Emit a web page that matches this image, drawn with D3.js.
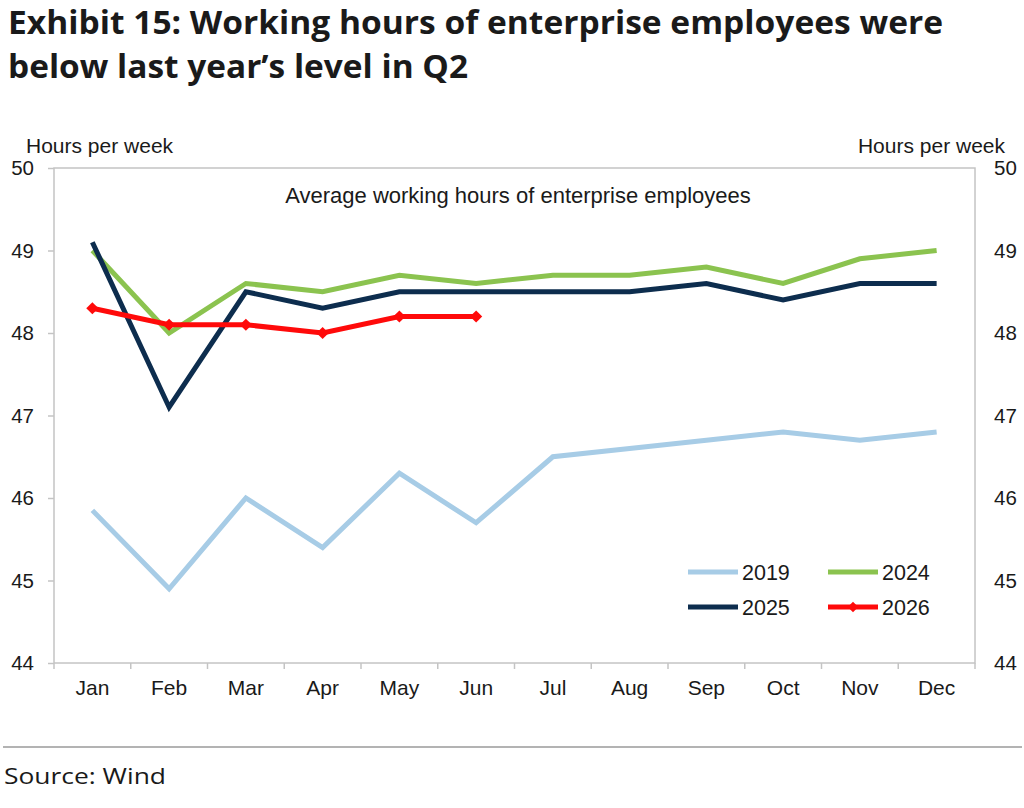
<!DOCTYPE html>
<html>
<head>
<meta charset="utf-8">
<script src="https://cdn.jsdelivr.net/npm/d3@7"></script>
<style>
  body { margin: 0; background: #fff; }
  svg { display: block; }
</style>
</head>
<body>
<div id="chart"></div>
<script>
const months = ["Jan","Feb","Mar","Apr","May","Jun","Jul","Aug","Sep","Oct","Nov","Dec"];
const yTicks = [44, 45, 46, 47, 48, 49, 50];

const hours2019 = [45.85, 44.9, 46.0, 45.4, 46.3, 45.7, 46.5, 46.6, 46.7, 46.8, 46.7, 46.8];
const hours2024 = [49.0, 48.0, 48.6, 48.5, 48.7, 48.6, 48.7, 48.7, 48.8, 48.6, 48.9, 49.0];
const hours2025 = [49.1, 47.1, 48.5, 48.3, 48.5, 48.5, 48.5, 48.5, 48.6, 48.4, 48.6, 48.6];
const hours2026 = [48.3, 48.1, 48.1, 48.0, 48.2, 48.2];

const series = [
  { name: "2019", values: hours2019, color: "#a7cce6", marker: false },
  { name: "2024", values: hours2024, color: "#8bc34f", marker: false },
  { name: "2025", values: hours2025, color: "#0d2d4e", marker: false },
  { name: "2026", values: hours2026, color: "#ff0a0a", marker: true }
];

const width = 1024, height = 808;
const plotL = 54, plotR = 975, plotT = 168, plotB = 663;
const axisFont = "'Liberation Sans', Arial, sans-serif";

const svg = d3.select("#chart").append("svg")
    .attr("width", width)
    .attr("height", height);

// title
const title = svg.append("text")
    .attr("font-family", "'Open Sans', sans-serif")
    .attr("font-weight", 700)
    .attr("font-size", 32)
    .attr("fill", "#1a1a1a");
title.append("tspan").attr("x", 8).attr("y", 34)
    .attr("textLength", 935).attr("lengthAdjust", "spacingAndGlyphs")
    .text("Exhibit 15: Working hours of enterprise employees were");
title.append("tspan").attr("x", 8).attr("y", 78)
    .attr("textLength", 460).attr("lengthAdjust", "spacingAndGlyphs")
    .text("below last year\u2019s level in Q2");

const x = d3.scaleBand().domain(months).range([plotL, plotR]);
const y = d3.scaleLinear().domain([44, 50]).range([plotB, plotT]);

// frame
svg.append("rect")
    .attr("x", plotL).attr("y", plotT)
    .attr("width", plotR - plotL).attr("height", plotB - plotT)
    .attr("fill", "none").attr("stroke", "#c4c4c4").attr("stroke-width", 1.5);

// x axis labels
const xAxis = svg.append("g")
    .attr("transform", `translate(0,${plotB})`)
    .call(d3.axisBottom(x).tickSize(0).tickPadding(17));
xAxis.select(".domain").remove();
xAxis.selectAll("text")
    .attr("font-family", axisFont).attr("font-size", 21).attr("fill", "#1a1a1a");

// x tick marks at category boundaries
svg.append("g").selectAll("line")
    .data(d3.range(months.length + 1))
    .join("line")
    .attr("x1", i => plotL + i * x.step())
    .attr("x2", i => plotL + i * x.step())
    .attr("y1", plotB).attr("y2", plotB + 6)
    .attr("stroke", "#c4c4c4").attr("stroke-width", 1.5);

// left axis
const yLeft = svg.append("g")
    .attr("transform", `translate(${plotL},0)`)
    .call(d3.axisLeft(y).tickValues(yTicks).tickFormat(d3.format("d")).tickSize(6).tickPadding(14));
yLeft.select(".domain").remove();
yLeft.selectAll("line").attr("stroke", "#c4c4c4").attr("stroke-width", 1.5);
yLeft.selectAll("text")
    .attr("font-family", axisFont).attr("font-size", 20.5).attr("fill", "#1a1a1a");

// right axis
const yRight = svg.append("g")
    .attr("transform", `translate(${plotR},0)`)
    .call(d3.axisRight(y).tickValues(yTicks).tickFormat(d3.format("d")).tickSize(0).tickPadding(19));
yRight.select(".domain").remove();
yRight.selectAll("text")
    .attr("font-family", axisFont).attr("font-size", 20.5).attr("fill", "#1a1a1a");

// axis unit labels
svg.append("text")
    .attr("x", 26).attr("y", 153)
    .attr("font-family", axisFont).attr("font-size", 21).attr("fill", "#1a1a1a")
    .text("Hours per week");
svg.append("text")
    .attr("x", 1005).attr("y", 153).attr("text-anchor", "end")
    .attr("font-family", axisFont).attr("font-size", 21).attr("fill", "#1a1a1a")
    .text("Hours per week");

// inner chart title
svg.append("text")
    .attr("x", 518).attr("y", 203).attr("text-anchor", "middle")
    .attr("font-family", axisFont).attr("font-size", 22).attr("fill", "#1a1a1a")
    .text("Average working hours of enterprise employees");

// lines
const line = d3.line()
    .x((d, i) => x(months[i]) + x.bandwidth() / 2)
    .y(d => y(d));

series.forEach(s => {
  svg.append("path")
      .datum(s.values)
      .attr("d", line)
      .attr("fill", "none")
      .attr("stroke", s.color)
      .attr("stroke-width", 5)
      .attr("stroke-linejoin", "miter");
  if (s.marker) {
    svg.append("g").selectAll("path")
        .data(s.values)
        .join("path")
        .attr("d", d3.symbol(d3.symbolDiamond2, 95))
        .attr("transform", (d, i) => `translate(${x(months[i]) + x.bandwidth() / 2},${y(d)})`)
        .attr("fill", s.color);
  }
});

// legend
const legendPos = [[688, 572], [828, 572], [688, 607], [828, 607]];
const legend = svg.append("g").selectAll("g")
    .data(series)
    .join("g")
    .attr("transform", (d, i) => `translate(${legendPos[i][0]},${legendPos[i][1]})`);
legend.append("line")
    .attr("x1", 0).attr("x2", 50).attr("y1", 0).attr("y2", 0)
    .attr("stroke", d => d.color).attr("stroke-width", 5);
legend.filter(d => d.marker).append("path")
    .attr("d", d3.symbol(d3.symbolDiamond2, 70))
    .attr("transform", "translate(25,0)")
    .attr("fill", d => d.color);
legend.append("text")
    .attr("x", 54).attr("y", 8)
    .attr("font-family", axisFont).attr("font-size", 21.5).attr("fill", "#1a1a1a")
    .text(d => d.name);

// footer
svg.append("line")
    .attr("x1", 3).attr("x2", 1022).attr("y1", 747).attr("y2", 747)
    .attr("stroke", "#9a9a9a").attr("stroke-width", 1.5);
svg.append("text")
    .attr("x", 4).attr("y", 784)
    .attr("font-family", "'Open Sans', sans-serif").attr("font-size", 22)
    .attr("textLength", 162).attr("lengthAdjust", "spacingAndGlyphs")
    .attr("fill", "#1a1a1a")
    .text("Source: Wind");
</script>
</body>
</html>
